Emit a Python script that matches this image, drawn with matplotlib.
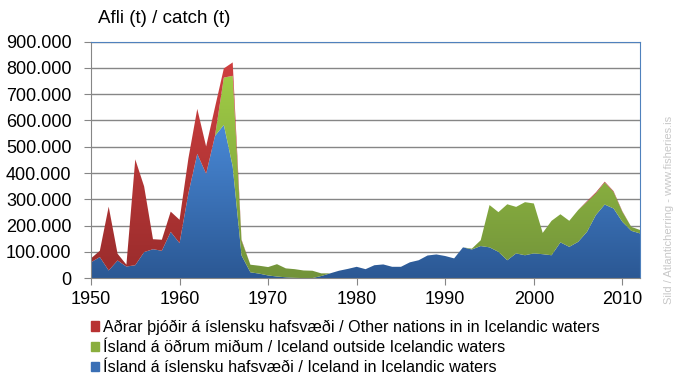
import numpy as np
import matplotlib
matplotlib.use("Agg")
import matplotlib.pyplot as plt
from matplotlib.colors import LinearSegmentedColormap
from matplotlib.patches import Patch
from matplotlib.ticker import FuncFormatter, MultipleLocator

# Afli síldar (t) 1950-2012
years = list(range(1950, 2013))

# Ísland á íslensku hafsvæði / Iceland in Icelandic waters
iceland_in = [60, 80, 29, 67, 44, 49, 99, 110, 104, 176,
              133, 323, 473, 397, 541, 583, 425, 86, 22, 17,
              10, 6, 3, 1, 0, 0, 8, 18, 28, 35,
              43, 34, 49, 52, 43, 43, 60, 68, 86, 90,
              84, 75, 117, 109, 122, 117, 100, 68, 94, 87,
              94, 91, 87, 136, 119, 138, 176, 240, 280, 265,
              214, 180, 170]
# Ísland á öðrum miðum / Iceland outside Icelandic waters
iceland_out = [0, 0, 0, 0, 0, 0, 0, 0, 0, 0,
               0, 0, 0, 0, 0, 180, 345, 57, 29, 30,
               32, 47, 34, 33, 29, 28, 10, 0, 0, 0,
               0, 0, 0, 0, 0, 0, 0, 0, 0, 0,
               0, 0, 0, 3, 22, 161, 151, 213, 177, 202,
               190, 81, 131, 107, 99, 121, 114, 82, 84, 63,
               38, 15, 13]
# Aðrar þjóðir á íslensku hafsvæði / Other nations in Icelandic waters
other_nations = [15, 24, 243, 26, 7, 403, 250, 38, 42, 77,
                 89, 133, 171, 104, 109, 35, 51, 3, 0, 0,
                 0, 0, 0, 0, 0, 0, 0, 0, 0, 0,
                 0, 0, 0, 0, 0, 0, 0, 0, 0, 0,
                 0, 0, 0, 0, 0, 0, 0, 0, 0, 0,
                 0, 0, 0, 0, 0, 0, 3, 4, 3, 3,
                 2, 0, 0]

labels = ["Aðrar þjóðir á íslensku hafsvæði / Other nations in in Icelandic waters",
          "Ísland á öðrum miðum / Iceland outside Icelandic waters",
          "Ísland á íslensku hafsvæði / Iceland in Icelandic waters"]

blue = np.array(iceland_in) * 1000
green = np.array(iceland_out) * 1000
red = np.array(other_nations) * 1000

plt.rcParams['font.family'] = ['Liberation Sans', 'DejaVu Sans']

fig = plt.figure(figsize=(6.81, 3.82), dpi=100)
ax = fig.add_axes([0.1336, 0.272, 0.8064, 0.619])

polys = ax.stackplot(years, blue, green, red, colors=['#3a6fb5', '#8aae3e', '#b83232'])

# gradient fills, light at top, dark at bottom
grads = [('#2b5894', '#4a8ad8', 600000),
         ('#72933a', '#a0cc45', 780000),
         ('#9a2c2c', '#d04040', 830000)]
for poly, (dark, light, top) in zip(polys, grads):
    cmap = LinearSegmentedColormap.from_list('g', [dark, light])
    im = ax.imshow(np.linspace(0, 1, 256).reshape(-1, 1), cmap=cmap, aspect='auto',
                   extent=[1950, 2012, 0, top], origin='lower', zorder=2,
                   interpolation='bilinear')
    im.set_clip_path(poly.get_paths()[0], transform=ax.transData)
    poly.set_facecolor('none')
    poly.set_edgecolor('none')

ax.set_xlim(1950, 2012)
ax.set_ylim(0, 900000)
ax.xaxis.set_major_locator(MultipleLocator(10))
ax.yaxis.set_major_locator(MultipleLocator(100000))
ax.yaxis.set_major_formatter(FuncFormatter(lambda v, p: f"{int(v):,}".replace(",", ".")))

ax.grid(axis='y', color='#868686', linewidth=1)
ax.set_axisbelow(True)
for s in ['left', 'bottom']:
    ax.spines[s].set_color('#868686')
for s in ['top', 'right']:
    ax.spines[s].set_color('#4f81bd')
ax.tick_params(axis='x', direction='out', length=5, color='#868686', labelsize=13, pad=4)
ax.tick_params(axis='y', direction='out', length=5, color='#868686', labelsize=13, pad=9)

fig.text(0.144, 0.952, "Afli (t) / catch (t)", fontsize=13.5, ha='left', va='center')

handles = [Patch(color='#b83232'), Patch(color='#8aae3e'), Patch(color='#3a6fb5')]
fig.legend(handles, labels, loc='upper left', bbox_to_anchor=(0.133, 0.163),
           bbox_transform=fig.transFigure, frameon=False, fontsize=11.6,
           handlelength=0.55, handleheight=0.55, handletextpad=0.25, labelspacing=0.32,
           borderaxespad=0, borderpad=0)

fig.text(0.982, 0.45, "Sild / Atlanticherring - www.fisheries.is", rotation=90,
         fontsize=8, color='#c8c8c8', ha='center', va='center')

fig.savefig("out.png", dpi=100)
